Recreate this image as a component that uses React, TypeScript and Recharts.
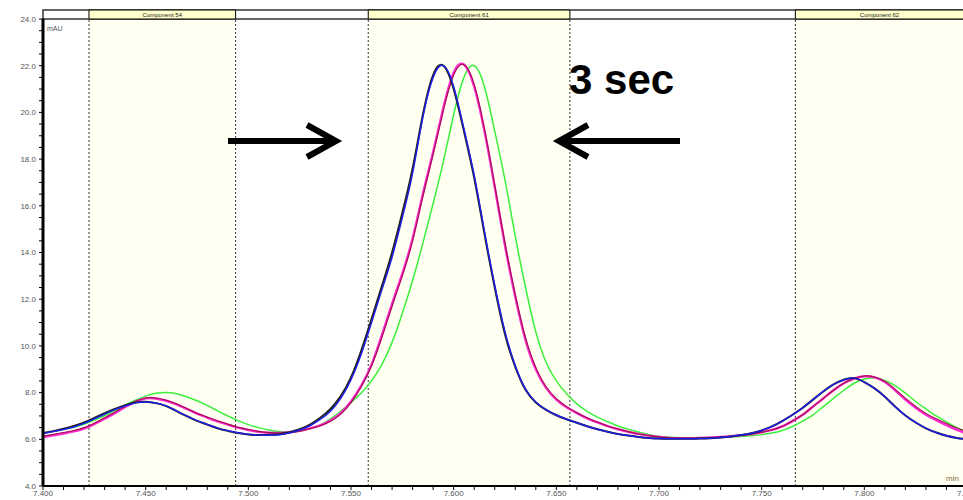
import { LineChart, Line, XAxis, YAxis, ReferenceArea, ReferenceLine } from 'recharts';

// retention time grid (min)
const times = [
  7.400, 7.405, 7.410, 7.415, 7.420, 7.425, 7.430, 7.435, 7.440, 7.445,
  7.450, 7.455, 7.460, 7.465, 7.470, 7.475, 7.480, 7.485, 7.490, 7.495,
  7.500, 7.505, 7.510, 7.515, 7.520, 7.525, 7.530, 7.535, 7.540, 7.545,
  7.550, 7.555, 7.560, 7.565, 7.570, 7.575, 7.580, 7.585, 7.590, 7.595,
  7.600, 7.605, 7.610, 7.615, 7.620, 7.625, 7.630, 7.635, 7.640, 7.645,
  7.650, 7.655, 7.660, 7.665, 7.670, 7.675, 7.680, 7.685, 7.690, 7.695,
  7.700, 7.705, 7.710, 7.715, 7.720, 7.725, 7.730, 7.735, 7.740, 7.745,
  7.750, 7.755, 7.760, 7.765, 7.770, 7.775, 7.780, 7.785, 7.790, 7.795,
  7.800, 7.805, 7.810, 7.815, 7.820, 7.825, 7.830, 7.835, 7.840, 7.845,
  7.850,
];

// mAU
const blue = [
  6.25, 6.33, 6.42, 6.53, 6.68, 6.88, 7.08, 7.27, 7.43, 7.56,
  7.6, 7.55, 7.43, 7.22, 7.0, 6.8, 6.64, 6.48, 6.37, 6.28,
  6.22, 6.18, 6.18, 6.2, 6.27, 6.4, 6.58, 6.85, 7.2, 7.75,
  8.55, 9.65, 11.0, 12.4, 13.8, 15.5, 17.4, 19.8, 21.5, 22.0,
  21.1, 19.3, 17.3, 14.9, 12.6, 10.6, 9.15, 8.15, 7.6, 7.27,
  7.04, 6.86, 6.71, 6.56, 6.43, 6.32, 6.23, 6.16, 6.1, 6.06,
  6.03, 6.02, 6.02, 6.02, 6.03, 6.05, 6.08, 6.12, 6.18, 6.26,
  6.38, 6.55, 6.78, 7.05, 7.35, 7.7, 8.05, 8.35, 8.55, 8.62,
  8.45, 8.18, 7.82, 7.4, 7.02, 6.72, 6.47, 6.29, 6.15, 6.06,
  6.0,
];

const black = [
  6.27, 6.35, 6.45, 6.57, 6.72, 6.92, 7.12, 7.3, 7.46, 7.58,
  7.61, 7.55, 7.42, 7.21, 6.99, 6.79, 6.63, 6.47, 6.36, 6.27,
  6.21, 6.18, 6.19, 6.22, 6.3, 6.43, 6.63, 6.92, 7.3, 7.85,
  8.65, 9.8, 11.15, 12.55, 14.0, 15.7, 17.6, 19.9, 21.6, 22.0,
  21.0, 19.2, 17.2, 14.8, 12.5, 10.5, 9.1, 8.12, 7.58, 7.26,
  7.03, 6.86, 6.71, 6.56, 6.43, 6.32, 6.23, 6.16, 6.1, 6.06,
  6.03, 6.02, 6.02, 6.02, 6.03, 6.05, 6.08, 6.12, 6.18, 6.26,
  6.38, 6.55, 6.78, 7.05, 7.35, 7.7, 8.05, 8.35, 8.55, 8.62,
  8.45, 8.18, 7.82, 7.4, 7.02, 6.72, 6.47, 6.29, 6.15, 6.06,
  6.0,
];

const magenta = [
  6.1, 6.17, 6.25, 6.34, 6.46, 6.65, 6.88, 7.12, 7.38, 7.6,
  7.75, 7.75, 7.65, 7.5, 7.3, 7.1, 6.93, 6.77, 6.63, 6.5,
  6.4, 6.32, 6.28, 6.27, 6.3, 6.36, 6.47, 6.6, 6.8, 7.12,
  7.62, 8.3, 9.2, 10.45, 11.8, 13.1, 14.6, 16.5, 18.3, 20.2,
  21.7, 22.05, 21.1, 19.2, 16.8, 14.3, 12.1, 10.25, 9.0, 8.2,
  7.7, 7.37, 7.12, 6.9, 6.72, 6.56, 6.43, 6.32, 6.23, 6.16,
  6.1, 6.06, 6.05, 6.05, 6.06, 6.08, 6.1, 6.13, 6.17, 6.22,
  6.3, 6.4, 6.55, 6.78, 7.05, 7.4, 7.75, 8.1, 8.4, 8.6,
  8.7, 8.65, 8.45, 8.1, 7.7, 7.35, 7.05, 6.82, 6.6, 6.4,
  6.25,
];

const darkRed = [
  6.14, 6.21, 6.29, 6.38, 6.5, 6.69, 6.92, 7.16, 7.41, 7.63,
  7.77, 7.77, 7.67, 7.52, 7.32, 7.12, 6.95, 6.79, 6.65, 6.52,
  6.42, 6.34, 6.29, 6.27, 6.29, 6.35, 6.45, 6.58, 6.77, 7.08,
  7.57, 8.25, 9.15, 10.35, 11.7, 13.0, 14.5, 16.4, 18.2, 20.1,
  21.6, 22.05, 21.2, 19.3, 16.9, 14.4, 12.2, 10.35, 9.08, 8.25,
  7.74, 7.4, 7.14, 6.92, 6.74, 6.57, 6.44, 6.33, 6.23, 6.16,
  6.1, 6.06, 6.05, 6.05, 6.06, 6.08, 6.1, 6.13, 6.17, 6.22,
  6.3, 6.4, 6.55, 6.78, 7.05, 7.4, 7.75, 8.1, 8.4, 8.6,
  8.71, 8.67, 8.48, 8.14, 7.76, 7.41, 7.11, 6.88, 6.68, 6.48,
  6.33,
];

const green = [
  6.25, 6.33, 6.42, 6.52, 6.64, 6.82, 7.02, 7.24, 7.46, 7.67,
  7.85, 7.97, 8.0, 7.95, 7.82, 7.65, 7.45, 7.22, 7.0, 6.8,
  6.63, 6.5, 6.4, 6.33, 6.31, 6.35, 6.45, 6.62, 6.88, 7.2,
  7.57, 7.98, 8.5, 9.2, 10.15, 11.4, 12.8, 14.4, 16.1, 17.9,
  19.9, 21.5, 22.0, 21.1, 19.2, 17.1, 14.7, 12.5, 10.6, 9.3,
  8.5, 7.95, 7.52, 7.2, 6.95, 6.75, 6.57, 6.43, 6.31, 6.21,
  6.13, 6.09, 6.07, 6.07, 6.07, 6.08, 6.09, 6.1, 6.12, 6.15,
  6.2, 6.27, 6.38, 6.55, 6.78, 7.05, 7.4, 7.75, 8.1, 8.4,
  8.58, 8.62, 8.52, 8.3, 7.98, 7.62, 7.3, 7.0, 6.75, 6.5,
  6.32,
];

const xTicks = [
  7.40, 7.41, 7.42, 7.43, 7.44, 7.45, 7.46, 7.47, 7.48, 7.49,
  7.50, 7.51, 7.52, 7.53, 7.54, 7.55, 7.56, 7.57, 7.58, 7.59,
  7.60, 7.61, 7.62, 7.63, 7.64, 7.65, 7.66, 7.67, 7.68, 7.69,
  7.70, 7.71, 7.72, 7.73, 7.74, 7.75, 7.76, 7.77, 7.78, 7.79,
  7.80, 7.81, 7.82, 7.83, 7.84, 7.85,
];

const yTicks = [
  4, 4.5, 5, 5.5, 6, 6.5, 7, 7.5, 8, 8.5, 9, 9.5, 10, 10.5, 11, 11.5,
  12, 12.5, 13, 13.5, 14, 14.5, 15, 15.5, 16, 16.5, 17, 17.5, 18, 18.5,
  19, 19.5, 20, 20.5, 21, 21.5, 22, 22.5, 23, 23.5, 24,
];

// integration windows
const components = [
  { name: 'Component 54', from: 7.4224, to: 7.4938 },
  { name: 'Component 61', from: 7.5584, to: 7.6566 },
  { name: 'Component 62', from: 7.7664, to: 7.8484 },
];

const data = times.map((t, i) => ({
  t,
  blue: blue[i],
  black: black[i],
  magenta: magenta[i],
  darkRed: darkRed[i],
  green: green[i],
}));

const font = 'Arial, "Liberation Sans", sans-serif';
const HEAD_TOP = 24.385;

export default function App() {
  return (
    <div style={{ position: 'absolute', left: 0, top: 0, width: 963, height: 500, overflow: 'hidden', background: '#fff' }}>
      <LineChart width={980} height={500} data={data} margin={{ top: 19, right: 13, bottom: 0, left: 0 }}>
        {components.map((c) => (
          <ReferenceArea key={c.name + 'bg'} x1={c.from} x2={c.to} y1={4} y2={24} fill="#fffff2" fillOpacity={1} stroke="none" ifOverflow="hidden" />
        ))}
        <ReferenceArea x1={7.4} x2={7.9} y1={24} y2={HEAD_TOP} fill="#fff" fillOpacity={1} stroke="#333" strokeWidth={1.5} ifOverflow="visible" />
        {components.map((c) => (
          <ReferenceArea
            key={c.name + 'hd'}
            x1={c.from}
            x2={c.to}
            y1={24}
            y2={HEAD_TOP}
            fill="#ffffcc"
            fillOpacity={1}
            stroke="#000"
            strokeWidth={1}
            ifOverflow="visible"
            label={{ value: c.name, position: 'center', fontSize: 6, fill: '#222', fontFamily: font }}
          />
        ))}
        {components.flatMap((c) => [c.from, c.to]).filter((v) => v < 7.84).map((v) => (
          <ReferenceLine key={'b' + v} x={v} stroke="#333" strokeDasharray="2 2" strokeWidth={1} ifOverflow="visible" segment={[{ x: v, y: 4 }, { x: v, y: 24 }]} />
        ))}
        <XAxis
          type="number"
          dataKey="t"
          domain={[7.4, 7.85]}
          ticks={xTicks}
          interval={0}
          height={14}
          tickSize={4}
          tickMargin={0}
          axisLine={{ stroke: '#000', strokeWidth: 2 }}
          tickLine={{ stroke: '#000' }}
          tick={{ fontSize: 8, fill: '#555', fontFamily: font }}
          tickFormatter={(v: number) => (Math.round(v * 1000) % 50 === 0 ? v.toFixed(3) : '')}
          allowDataOverflow
        />
        <YAxis
          type="number"
          domain={[4, 24]}
          ticks={yTicks}
          interval={0}
          width={43}
          tickSize={4}
          tickMargin={3}
          axisLine={{ stroke: '#000', strokeWidth: 3 }}
          tickLine={{ stroke: '#000' }}
          tick={{ fontSize: 8, fill: '#555', fontFamily: font }}
          tickFormatter={(v: number) => (Math.round(v * 10) % 20 === 0 ? v.toFixed(1) : '')}
          allowDataOverflow
        />
        <Line type="natural" dataKey="green" stroke="#3cf03c" strokeWidth={1.5} dot={false} isAnimationActive={false} />
        <Line type="natural" dataKey="magenta" stroke="#ff2ad4" strokeWidth={2.4} dot={false} isAnimationActive={false} />
        <Line type="natural" dataKey="darkRed" stroke="#a0104a" strokeWidth={1.1} dot={false} isAnimationActive={false} />
        <Line type="natural" dataKey="black" stroke="#222" strokeWidth={2} dot={false} isAnimationActive={false} />
        <Line type="natural" dataKey="blue" stroke="#1e1ee6" strokeWidth={1.5} dot={false} isAnimationActive={false} />
      </LineChart>
      <svg width={963} height={500} style={{ position: 'absolute', left: 0, top: 0, pointerEvents: 'none' }}>
        <text x={47} y={31} fontSize={7} fill="#555" fontFamily={font}>mAU</text>
        <text x={946} y={481} fontSize={8} fill="#8a6d3b" fontFamily={font}>min</text>
        <text x={569} y={94} fontSize={42} fontWeight="bold" fill="#000" fontFamily={font}>3 sec</text>
        <g stroke="#000" strokeWidth={6} fill="none" strokeLinecap="butt" strokeLinejoin="miter">
          <line x1={228} y1={141} x2={334} y2={141} />
          <polyline points="307,125 336,141 307,157" />
          <line x1={561} y1={141} x2={680} y2={141} />
          <polyline points="588,125 559,141 588,157" />
        </g>
      </svg>
    </div>
  );
}
